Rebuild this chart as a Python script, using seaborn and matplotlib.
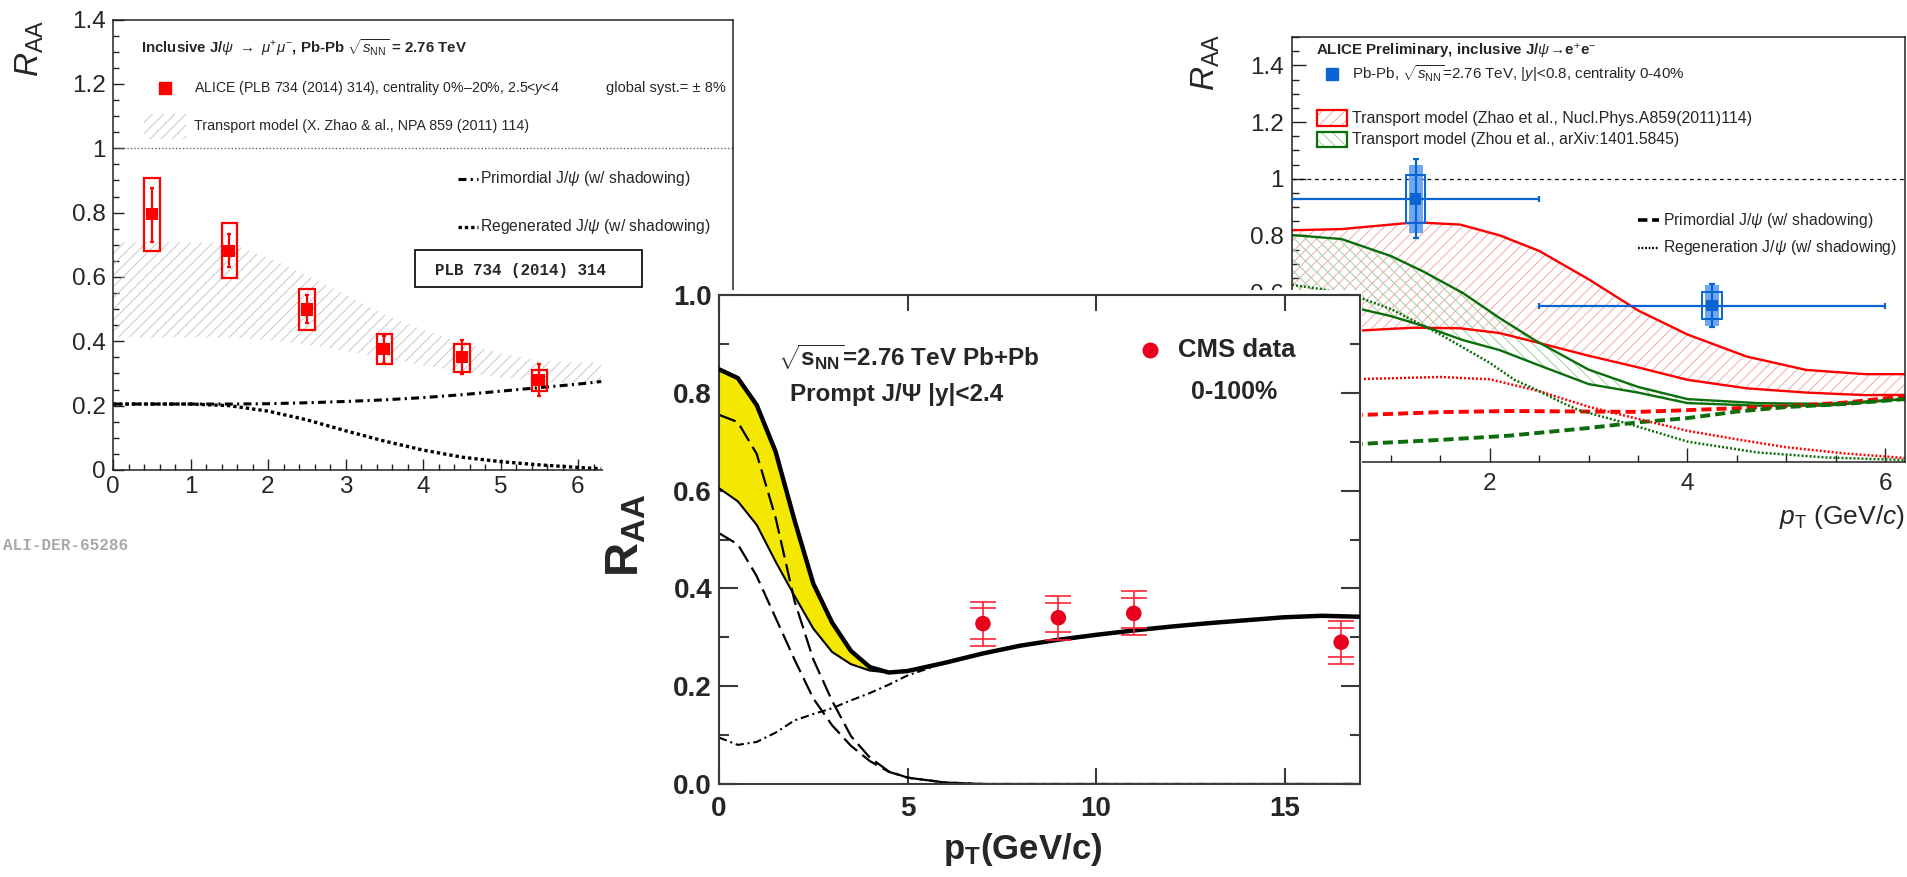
import matplotlib
matplotlib.use("Agg")
import matplotlib.pyplot as plt
import seaborn as sns
from matplotlib.patches import Rectangle
from matplotlib.ticker import MultipleLocator, FuncFormatter

W, H = 1907, 877

# ---------------- ALICE forward rapidity (J/psi -> mu+ mu-) ----------------
fwd_pt = [0.5, 1.5, 2.5, 3.5, 4.5, 5.5]
fwd_raa = [0.795, 0.681, 0.499, 0.377, 0.351, 0.279]
fwd_stat_lo = [0.708, 0.630, 0.456, 0.334, 0.297, 0.229]
fwd_stat_hi = [0.878, 0.734, 0.543, 0.417, 0.403, 0.329]
fwd_syst_lo = [0.680, 0.597, 0.436, 0.329, 0.306, 0.245]
fwd_syst_hi = [0.908, 0.767, 0.562, 0.423, 0.393, 0.310]

fwd_model_pt = [0, 0.5, 1.0, 1.5, 2.0, 2.5, 3.0, 3.5, 4.0, 4.5, 5.0, 5.5, 6.0, 6.3]
fwd_band_hi = [0.708, 0.708, 0.708, 0.706, 0.660, 0.606, 0.545, 0.484, 0.435, 0.395, 0.363, 0.340, 0.334, 0.334]
fwd_band_lo = [0.412, 0.412, 0.412, 0.410, 0.405, 0.390, 0.370, 0.348, 0.326, 0.305, 0.288, 0.275, 0.268, 0.267]
fwd_primordial = [0.205, 0.205, 0.205, 0.205, 0.206, 0.209, 0.213, 0.218, 0.225, 0.234, 0.245, 0.256, 0.267, 0.275]
fwd_regenerated = [0.205, 0.205, 0.205, 0.200, 0.183, 0.156, 0.122, 0.090, 0.062, 0.040, 0.026, 0.016, 0.008, 0.004]

# ---------------- CMS prompt J/psi, |y|<2.4 with transport model ----------------
cms_pt = [7.0, 9.0, 11.0, 16.5]
cms_raa = [0.328, 0.340, 0.349, 0.290]
cms_err_inner = [0.031, 0.030, 0.031, 0.030]
cms_err_outer = [0.045, 0.045, 0.045, 0.044]

mid_pt = [0, 0.5, 1, 1.5, 2, 2.5, 3, 3.5, 4, 4.5, 5, 6, 7, 8, 9, 10, 11, 12, 13, 14, 15, 16, 17]
mid_total_hi = [0.848, 0.830, 0.775, 0.680, 0.540, 0.410, 0.330, 0.272, 0.239, 0.228, 0.231, 0.248,
                0.267, 0.283, 0.295, 0.305, 0.314, 0.322, 0.329, 0.335, 0.341, 0.344, 0.342]
mid_total_lo = [0.605, 0.578, 0.530, 0.455, 0.385, 0.318, 0.270, 0.245, 0.232, 0.228, 0.231]
mid_regen_hi = [0.755, 0.740, 0.675, 0.545, 0.375, 0.255, 0.170, 0.098, 0.054, 0.026, 0.013, 0.003,
                0, 0, 0, 0, 0, 0, 0, 0, 0, 0, 0]
mid_regen_lo = [0.513, 0.490, 0.425, 0.340, 0.255, 0.175, 0.120, 0.078, 0.047, 0.025, 0.013, 0.003,
                0, 0, 0, 0, 0, 0, 0, 0, 0, 0, 0]
mid_primordial = [0.095, 0.080, 0.086, 0.105, 0.130, 0.143, 0.155, 0.171, 0.186, 0.203, 0.222, 0.248]

# ---------------- ALICE mid rapidity (J/psi -> e+ e-) ----------------
ee_pt = [1.25, 4.25]
ee_raa = [0.929, 0.552]
ee_pt_lo = [0.0, 2.5]
ee_pt_hi = [2.5, 6.0]
ee_stat_lo = [0.792, 0.475]
ee_stat_hi = [1.070, 0.628]
ee_syst_lo = [0.845, 0.505]
ee_syst_hi = [1.013, 0.601]
ee_corr_lo = [0.810, 0.480]
ee_corr_hi = [1.048, 0.625]

zhao_pt = [0, 0.5, 1.0, 1.25, 1.7, 2.1, 2.5, 3.0, 3.5, 4.0, 4.6, 5.2, 5.8, 6.2]
zhao_hi = [0.818, 0.822, 0.838, 0.846, 0.838, 0.800, 0.745, 0.645, 0.535, 0.450, 0.372, 0.325, 0.310, 0.310]
zhao_lo = [0.455, 0.460, 0.470, 0.474, 0.472, 0.455, 0.420, 0.375, 0.334, 0.290, 0.260, 0.245, 0.236, 0.237]

zhou_pt = [0, 0.5, 1.0, 1.33, 1.73, 2.1, 2.47, 3.0, 3.5, 4.0, 4.7, 5.4, 6.2]
zhou_hi = [0.801, 0.787, 0.727, 0.672, 0.596, 0.508, 0.427, 0.326, 0.265, 0.222, 0.208, 0.205, 0.222]
zhou_lo = [0.585, 0.555, 0.515, 0.480, 0.430, 0.395, 0.345, 0.275, 0.245, 0.208, 0.199, 0.199, 0.222]

comp_pt = [0, 0.7, 1.5, 2.2, 3.0, 3.5, 4.0, 4.5, 5.0, 5.6, 6.2]
zhao_primordial = [0.155, 0.166, 0.176, 0.180, 0.178, 0.177, 0.183, 0.190, 0.197, 0.210, 0.232]
zhou_primordial = [0.050, 0.064, 0.078, 0.093, 0.120, 0.140, 0.155, 0.178, 0.194, 0.205, 0.222]

zhao_regen_pt = [0, 0.7, 1.5, 2.0, 2.5, 3.0, 3.5, 4.0, 4.5, 5.0, 5.6, 6.2]
zhao_regen = [0.290, 0.293, 0.300, 0.292, 0.250, 0.195, 0.152, 0.110, 0.080, 0.052, 0.030, 0.014]
zhou_regen_pt = [0, 0.3, 0.7, 1.0, 1.5, 2.0, 2.25, 2.5, 2.7, 2.9, 3.4, 4.0, 4.7, 5.4, 6.2]
zhou_regen = [0.625, 0.610, 0.578, 0.540, 0.450, 0.350, 0.290, 0.250, 0.215, 0.183, 0.135, 0.072, 0.034, 0.016, 0.007]

# ---------------- style ----------------
sns.set_theme(style="ticks")
plt.rcParams.update({
    "font.family": ["Liberation Sans", "DejaVu Sans"],
    "mathtext.fontset": "custom",
    "mathtext.rm": "Liberation Sans",
    "mathtext.it": "Liberation Sans:italic",
    "mathtext.bf": "Liberation Sans:bold",
    "mathtext.sf": "Liberation Sans",
    "hatch.linewidth": 0.7,
    "xtick.direction": "in",
    "ytick.direction": "in",
    "axes.edgecolor": "#222222",
})

fig = plt.figure(figsize=(W / 100, H / 100), dpi=100)
fig.patch.set_facecolor("white")


def axes_box(x0, y0, x1, y1):
    return [x0 / W, 1.0 - y1 / H, (x1 - x0) / W, (y1 - y0) / H]


def fx(px):
    return px / W


def fy(py):
    return 1.0 - py / H


def ftext(ax, px, py, s, **kw):
    kw.setdefault("va", "center")
    kw.setdefault("ha", "left")
    return ax.text(fx(px), fy(py), s, transform=fig.transFigure, **kw)


def fline(ax, x0, x1, py, **kw):
    ax.plot([fx(x0), fx(x1)], [fy(py), fy(py)], transform=fig.transFigure, clip_on=False, **kw)


def frect(ax, x0, y0, x1, y1, **kw):
    r = Rectangle((fx(x0), fy(y1)), (x1 - x0) / W, (y1 - y0) / H, transform=fig.transFigure,
                  clip_on=False, **kw)
    ax.add_patch(r)
    return r


def plain_above(limit_lo=None, limit_hi=None):
    # plain numeric labels; values lying under the CMS panel are left blank
    def fmt(v, p):
        if limit_lo is not None and v < limit_lo - 1e-9:
            return ""
        if limit_hi is not None and v > limit_hi + 1e-9:
            return ""
        return f"{v:g}"
    return FuncFormatter(fmt)


LW_KW = dict(sort=False, estimator=None, legend=False)

# ======================= left: ALICE forward =======================
ax_l = fig.add_axes(axes_box(113, 19.6, 733, 470), zorder=1)
ax_l.set_xlim(0, 8.0)
ax_l.set_ylim(0, 1.4)
ax_l.set_facecolor("white")

ax_l.fill_between(fwd_model_pt, fwd_band_lo, fwd_band_hi, facecolor="none",
                  edgecolor="#c8c8c8", hatch="///", linewidth=0, zorder=1)
ax_l.axhline(1.0, color="#666666", lw=1.0, ls=(0, (1, 1.5)), zorder=1)
sns.lineplot(x=fwd_model_pt, y=fwd_primordial, ax=ax_l, color="black", linewidth=2.2,
             linestyle=(0, (2.6, 1.4, 0.7, 1.4)), zorder=2, **LW_KW)
sns.lineplot(x=fwd_model_pt, y=fwd_regenerated, ax=ax_l, color="black", linewidth=2.4,
             linestyle=(0, (1.0, 0.9)), zorder=2, **LW_KW)

for x, lo, hi in zip(fwd_pt, fwd_syst_lo, fwd_syst_hi):
    ax_l.add_patch(Rectangle((x - 0.1, lo), 0.2, hi - lo, fill=False, edgecolor="#ff0000",
                             lw=1.6, zorder=3))
ax_l.errorbar(fwd_pt, fwd_raa,
              yerr=[[v - l for v, l in zip(fwd_raa, fwd_stat_lo)],
                    [h - v for v, h in zip(fwd_raa, fwd_stat_hi)]],
              fmt="none", ecolor="#ff0000", elinewidth=1.6, capsize=1.5, capthick=1.6, zorder=4)
sns.scatterplot(x=fwd_pt, y=fwd_raa, ax=ax_l, marker="s", s=78, color="#ff0000",
                edgecolor="none", linewidth=0, zorder=5, legend=False)

ax_l.xaxis.set_major_locator(MultipleLocator(1))
ax_l.xaxis.set_minor_locator(MultipleLocator(0.2))
ax_l.yaxis.set_major_locator(MultipleLocator(0.2))
ax_l.yaxis.set_minor_locator(MultipleLocator(0.05))
ax_l.xaxis.set_major_formatter(plain_above(limit_hi=6))
ax_l.yaxis.set_major_formatter(plain_above())
ax_l.tick_params(which="major", length=8, width=1.0, labelsize=17.5, color="#222222")
ax_l.tick_params(which="minor", length=4, width=1.0, color="#222222")
ax_l.tick_params(axis="y", pad=5)
ax_l.tick_params(axis="x", pad=4)
ax_l.tick_params(top=False, right=False, which="both")
for sp in ax_l.spines.values():
    sp.set_linewidth(1.1)

ftext(ax_l, 30, 48, r"$R_{\rm AA}$", fontsize=24, rotation=90, ha="center")
ftext(ax_l, 733, 529, r"$p_{\rm T}$ (GeV/$c$)", fontsize=19, ha="right")
ftext(ax_l, 141, 48, r"Inclusive J/$\psi$ $\rightarrow$ $\mu^{+}\mu^{-}$, Pb-Pb $\sqrt{s_{\rm NN}}$ = 2.76 TeV",
      fontsize=10.8, fontweight="bold")
ax_l.plot([fx(165)], [fy(88)], marker="s", ms=8.5, color="#ff0000", transform=fig.transFigure,
          clip_on=False, ls="none")
ftext(ax_l, 194, 88, r"ALICE (PLB 734 (2014) 314), centrality 0%–20%, 2.5<$y$<4", fontsize=10.2)
ftext(ax_l, 606, 88, "global syst.= ± 8%", fontsize=10.5)
frect(ax_l, 144, 114, 186, 139, facecolor="none", edgecolor="#c8c8c8", hatch="///", lw=0)
ftext(ax_l, 194, 126, "Transport model (X. Zhao & al., NPA 859 (2011) 114)", fontsize=10.3)
fline(ax_l, 458, 478, 179, color="black", lw=2.2, ls=(0, (2.6, 1.4, 0.7, 1.4)))
ftext(ax_l, 480, 179, r"Primordial J/$\psi$ (w/ shadowing)", fontsize=11.3)
fline(ax_l, 458, 478, 227, color="black", lw=2.4, ls=(0, (1.0, 0.9)))
ftext(ax_l, 480, 227, r"Regenerated J/$\psi$ (w/ shadowing)", fontsize=11.3)
frect(ax_l, 415, 250, 642, 287, facecolor="white", edgecolor="black", lw=1.2, zorder=6)
ftext(ax_l, 435, 271, "PLB 734 (2014) 314", fontsize=11.4, family="Liberation Mono",
      fontweight="bold", zorder=7)

# ======================= right: ALICE mid rapidity =======================
ax_r = fig.add_axes(axes_box(1292, 37, 1905, 462), zorder=1)
ax_r.set_xlim(0, 6.2)
ax_r.set_ylim(0, 1.5)
ax_r.set_facecolor("white")

ax_r.fill_between(zhao_pt, zhao_lo, zhao_hi, facecolor="none", edgecolor="#f5a8a8",
                  hatch="///", linewidth=0, zorder=1)
ax_r.fill_between(zhou_pt, zhou_lo, zhou_hi, facecolor="none", edgecolor="#9fcf9f",
                  hatch="\\\\\\", linewidth=0, zorder=1)
ax_r.axhline(1.0, color="black", lw=0.9, ls=(0, (3, 3)), zorder=1)

red, green = "#ff0000", "#0b6e0b"
sns.lineplot(x=zhao_pt, y=zhao_hi, ax=ax_r, color=red, linewidth=1.7, zorder=2, **LW_KW)
sns.lineplot(x=zhao_pt, y=zhao_lo, ax=ax_r, color=red, linewidth=1.7, zorder=2, **LW_KW)
sns.lineplot(x=zhou_pt, y=zhou_hi, ax=ax_r, color=green, linewidth=1.7, zorder=2, **LW_KW)
sns.lineplot(x=zhou_pt, y=zhou_lo, ax=ax_r, color=green, linewidth=1.7, zorder=2, **LW_KW)
sns.lineplot(x=comp_pt, y=zhao_primordial, ax=ax_r, color=red, linewidth=2.8,
             linestyle=(0, (2.6, 1.3)), zorder=2, **LW_KW)
sns.lineplot(x=comp_pt, y=zhou_primordial, ax=ax_r, color=green, linewidth=2.8,
             linestyle=(0, (2.6, 1.3)), zorder=2, **LW_KW)
sns.lineplot(x=zhao_regen_pt, y=zhao_regen, ax=ax_r, color=red, linewidth=1.8,
             linestyle=(0, (0.8, 0.8)), zorder=2, **LW_KW)
sns.lineplot(x=zhou_regen_pt, y=zhou_regen, ax=ax_r, color=green, linewidth=1.8,
             linestyle=(0, (0.8, 0.8)), zorder=2, **LW_KW)

blue = "#0a64d2"
for x, lo, hi in zip(ee_pt, ee_corr_lo, ee_corr_hi):
    ax_r.add_patch(Rectangle((x - 0.07, lo), 0.14, hi - lo, facecolor="#5f9ef2",
                             edgecolor="none", alpha=0.9, zorder=3))
for x, lo, hi in zip(ee_pt, ee_syst_lo, ee_syst_hi):
    ax_r.add_patch(Rectangle((x - 0.1, lo), 0.2, hi - lo, fill=False, edgecolor=blue,
                             lw=1.4, zorder=4))
ax_r.errorbar(ee_pt, ee_raa,
              xerr=[[v - l for v, l in zip(ee_pt, ee_pt_lo)],
                    [h - v for v, h in zip(ee_pt, ee_pt_hi)]],
              yerr=[[v - l for v, l in zip(ee_raa, ee_stat_lo)],
                    [h - v for v, h in zip(ee_raa, ee_stat_hi)]],
              fmt="none", ecolor=blue, elinewidth=1.6, capsize=2.5, capthick=1.6, zorder=5)
sns.scatterplot(x=ee_pt, y=ee_raa, ax=ax_r, marker="s", s=72, color=blue,
                edgecolor="none", linewidth=0, zorder=6, legend=False)

ax_r.xaxis.set_major_locator(MultipleLocator(2))
ax_r.xaxis.set_minor_locator(MultipleLocator(0.5))
ax_r.yaxis.set_major_locator(MultipleLocator(0.2))
ax_r.yaxis.set_minor_locator(MultipleLocator(0.05))
ax_r.xaxis.set_major_formatter(plain_above(limit_lo=2))
ax_r.yaxis.set_major_formatter(plain_above(limit_lo=0.6))
ax_r.tick_params(which="major", length=10, width=1.0, labelsize=17.5, color="#222222")
ax_r.tick_params(which="minor", length=5, width=1.0, color="#222222")
ax_r.tick_params(axis="y", pad=6)
ax_r.tick_params(axis="x", pad=8)
ax_r.tick_params(top=False, right=False, which="both")
for sp in ax_r.spines.values():
    sp.set_linewidth(1.1)

ftext(ax_r, 1206, 62, r"$R_{\rm AA}$", fontsize=24, rotation=90, ha="center")
ftext(ax_r, 1905, 517, r"$p_{\rm T}$ (GeV/$c$)", fontsize=19, ha="right")
ftext(ax_r, 1316, 51, r"ALICE Preliminary, inclusive J/$\psi\!\rightarrow\!$e$^{+}$e$^{-}$",
      fontsize=10.9, fontweight="bold")
ax_r.plot([fx(1332)], [fy(74)], marker="s", ms=8.2, color=blue, transform=fig.transFigure,
          clip_on=False, ls="none")
ftext(ax_r, 1352, 74, r"Pb-Pb, $\sqrt{s_{\rm NN}}$=2.76 TeV, |$y$|<0.8, centrality 0-40%", fontsize=10.9)
frect(ax_r, 1317, 110, 1347, 126, facecolor="none", edgecolor="#f5a8a8", hatch="///", lw=0)
frect(ax_r, 1317, 110, 1347, 126, facecolor="none", edgecolor=red, lw=1.6)
ftext(ax_r, 1352, 118, "Transport model (Zhao et al., Nucl.Phys.A859(2011)114)", fontsize=11.5)
frect(ax_r, 1317, 132, 1347, 147, facecolor="none", edgecolor="#9fcf9f", hatch="\\\\\\", lw=0)
frect(ax_r, 1317, 132, 1347, 147, facecolor="none", edgecolor=green, lw=1.6)
ftext(ax_r, 1352, 139.5, "Transport model (Zhou et al., arXiv:1401.5845)", fontsize=11.3)
fline(ax_r, 1638, 1659, 220, color="black", lw=2.6, ls=(0, (2.6, 1.3)))
ftext(ax_r, 1663, 220, r"Primordial J/$\psi$ (w/ shadowing)", fontsize=11.3)
fline(ax_r, 1638, 1659, 247.5, color="black", lw=1.6, ls=(0, (0.8, 0.8)))
ftext(ax_r, 1663, 247.5, r"Regeneration J/$\psi$ (w/ shadowing)", fontsize=11.3)

# white panel carrying the CMS comparison
fig.add_artist(Rectangle((fx(603), 0), (1362 - 603) / W, 1 - 290 / H, transform=fig.transFigure,
                         facecolor="white", edgecolor="none", zorder=2))

# ======================= middle: CMS prompt J/psi =======================
ax_m = fig.add_axes(axes_box(719, 295, 1360, 784), zorder=3)
ax_m.set_xlim(0, 17)
ax_m.set_ylim(0, 1.0)
ax_m.set_facecolor("white")

ax_m.fill_between(mid_pt[:len(mid_total_lo)], mid_total_lo, mid_total_hi[:len(mid_total_lo)],
                  color="#f4e800", linewidth=0, zorder=1)
dash_long = (0, (8, 3))
sns.lineplot(x=mid_pt, y=mid_regen_lo, ax=ax_m, color="black", linewidth=1.6,
             linestyle=dash_long, zorder=2, **LW_KW)
sns.lineplot(x=mid_pt, y=mid_regen_hi, ax=ax_m, color="black", linewidth=1.6,
             linestyle=dash_long, zorder=2, **LW_KW)
sns.lineplot(x=mid_pt[:len(mid_primordial)], y=mid_primordial, ax=ax_m, color="black",
             linewidth=1.5, linestyle=(0, (4, 1.8, 1, 1.8)), zorder=2, **LW_KW)
sns.lineplot(x=mid_pt[:len(mid_total_lo)], y=mid_total_lo, ax=ax_m, color="black",
             linewidth=1.5, zorder=3, **LW_KW)
sns.lineplot(x=mid_pt, y=mid_total_hi, ax=ax_m, color="black", linewidth=3.2, zorder=3, **LW_KW)

cms_red = "#ff2436"
ax_m.errorbar(cms_pt, cms_raa, yerr=cms_err_outer, fmt="none", ecolor=cms_red, elinewidth=1.2,
              capsize=9.5, capthick=1.2, zorder=4)
ax_m.errorbar(cms_pt, cms_raa, yerr=cms_err_inner, fmt="none", ecolor=cms_red, elinewidth=0,
              capsize=9.5, capthick=1.2, zorder=4)
sns.scatterplot(x=cms_pt, y=cms_raa, ax=ax_m, s=125, color="#e8001c", edgecolor="none",
                linewidth=0, zorder=5, legend=False)

ax_m.xaxis.set_major_locator(MultipleLocator(5))
ax_m.yaxis.set_major_locator(MultipleLocator(0.2))
ax_m.yaxis.set_minor_locator(MultipleLocator(0.1))
ax_m.yaxis.set_major_formatter(FuncFormatter(lambda v, p: f"{v:.1f}"))
ax_m.tick_params(which="both", top=True, right=True, color="#3a3a3a")
ax_m.tick_params(axis="y", which="major", length=13.5, width=1.5, pad=5)
ax_m.tick_params(axis="y", which="minor", length=7, width=1.5)
ax_m.tick_params(axis="x", which="major", length=11.5, width=1.5, pad=9)
for lab in ax_m.get_xticklabels() + ax_m.get_yticklabels():
    lab.set_fontsize(20)
    lab.set_fontweight("bold")
for sp in ax_m.spines.values():
    sp.set_linewidth(1.5)
    sp.set_color("#3a3a3a")

ftext(ax_m, 626, 535, r"$\mathbf{R_{AA}}$", fontsize=34, rotation=90, ha="center")
ftext(ax_m, 1023, 850, r"$\mathbf{p_T}$(GeV/c)", fontsize=25, fontweight="bold", ha="center")
ftext(ax_m, 778, 357, r"$\sqrt{\mathbf{s}_{\mathbf{NN}}}$=2.76 TeV Pb+Pb", fontsize=17.5,
      fontweight="bold")
ftext(ax_m, 790, 395, "Prompt J/Ψ |y|<2.4", fontsize=17.5, fontweight="bold")
ax_m.plot([fx(1150)], [fy(350)], marker="o", ms=10.5, color="#e8001c", transform=fig.transFigure,
          clip_on=False, ls="none")
ftext(ax_m, 1178, 350, "CMS data", fontsize=18.5, fontweight="bold")
ftext(ax_m, 1191, 392, "0-100%", fontsize=18, fontweight="bold")

fig.text(fx(3), fy(545), "ALI-DER-65286", fontsize=11.5, family="Liberation Mono",
         fontweight="bold", color="#a8a8a8", va="center", ha="left")

fig.savefig("out.png", dpi=100, facecolor="white")
